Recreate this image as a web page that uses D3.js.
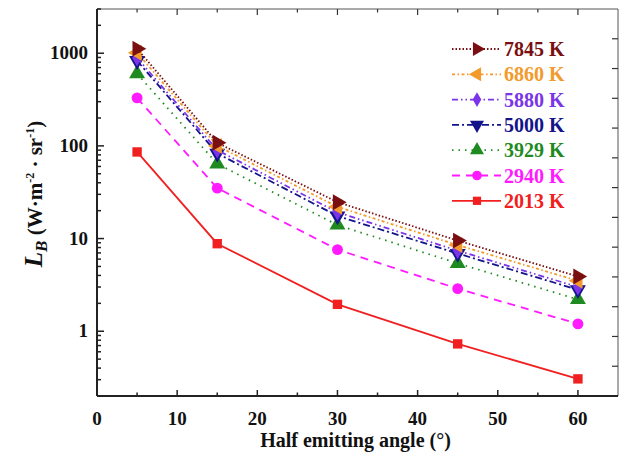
<!DOCTYPE html>
<html>
<head>
<meta charset="utf-8">
<script src="https://cdn.jsdelivr.net/npm/d3@7"></script>
<style>
  body { margin: 0; background: #fff; }
  svg text { font-family: "Times New Roman", Times, "Liberation Serif", "DejaVu Serif", serif; font-weight: 700; }
</style>
</head>
<body>
<div id="chart"></div>
<script>
const width = 626;
const height = 460;

// data
const angles = [5, 15, 30, 45, 60];
const temps = ['7845 K', '6860 K', '5880 K', '5000 K', '3929 K', '2940 K', '2013 K'];
const lb7845 = [1120, 108, 24.7, 9.5, 3.9];
const lb6860 = [1010, 100, 22, 8.5, 3.5];
const lb5880 = [890, 90, 19.2, 7.4, 3.0];
const lb5000 = [830, 83, 17.5, 6.9, 2.8];
const lb3929 = [600, 64, 14, 5.4, 2.2];
const lb2940 = [330, 35, 7.6, 2.88, 1.2];
const lb2013 = [86, 8.8, 1.95, 0.73, 0.306];
const yTicks = [1, 10, 100, 1000];
const xTicks = [0, 10, 20, 30, 40, 50, 60];

const series = [
    { name: temps[0], values: lb7845, color: '#7a0f12', dash: '1.5,2', shape: 'tri', rot: 90 },
    { name: temps[1], values: lb6860, color: '#f39a2c', dash: '3,2.5,1.5,2.5', shape: 'tri', rot: -90 },
    { name: temps[2], values: lb5880, color: '#7b35e8', dash: '6,3,1.5,3,1.5,3', shape: 'diamond', rot: 0 },
    { name: temps[3], values: lb5000, color: '#14148a', dash: '7,3,2,3', shape: 'tri', rot: 180 },
    { name: temps[4], values: lb3929, color: '#1f8a1f', dash: '1.5,5', shape: 'tri', rot: 0 },
    { name: temps[5], values: lb2940, color: '#ff1aff', dash: '8,6', shape: 'circle', rot: 0 },
    { name: temps[6], values: lb2013, color: '#f02020', dash: null, shape: 'square', rot: 0 }
];

const margin = { left: 97, right: 8, top: 9, bottom: 64 };
const x0 = margin.left, x1 = width - margin.right;
const y0 = margin.top, y1 = height - margin.bottom;

const x = d3.scaleLinear().domain([0, 65]).range([x0, x1]);
const y = d3.scaleLog().domain([0.2, 3000]).range([y1, y0]);

const svg = d3.select('#chart').append('svg')
    .attr('width', width)
    .attr('height', height);

// frame: top and right thin grey
svg.append('line').attr('x1', x0).attr('x2', x1).attr('y1', y0).attr('y2', y0)
    .attr('stroke', '#555').attr('stroke-width', 1);
svg.append('line').attr('x1', x1).attr('x2', x1).attr('y1', y0).attr('y2', y1)
    .attr('stroke', '#555').attr('stroke-width', 1);

// x minor/major ticks (bottom + top, inward)
const xAll = d3.range(0, 65, 5);
xAll.forEach(v => {
    const major = v % 10 === 0;
    const len = major ? 6 : 3.5;
    svg.append('line').attr('x1', x(v)).attr('x2', x(v)).attr('y1', y1).attr('y2', y1 - len)
        .attr('stroke', '#222').attr('stroke-width', 1.5);
    svg.append('line').attr('x1', x(v)).attr('x2', x(v)).attr('y1', y0).attr('y2', y0 + len)
        .attr('stroke', '#333').attr('stroke-width', 1.2);
});

// y log ticks (left, inward)
const yMinor = [];
for (let e = -1; e <= 3; e++) {
    for (let m = 1; m <= 9; m++) {
        const v = m * Math.pow(10, e);
        if (v >= 0.2 && v <= 3000) yMinor.push(v);
    }
}
yMinor.forEach(v => {
    const major = yTicks.includes(v);
    svg.append('line').attr('x1', x0).attr('x2', x0 + (major ? 7 : 4))
        .attr('y1', y(v)).attr('y2', y(v))
        .attr('stroke', '#222').attr('stroke-width', 1.5);
});

// right axis ticks (linear mirror, inward)
const yr = d3.scaleLinear().domain([0, 13]).range([y1, y0]);
d3.range(1, 13).forEach(v => {
    svg.append('line').attr('x1', x1).attr('x2', x1 - 6)
        .attr('y1', yr(v)).attr('y2', yr(v))
        .attr('stroke', '#333').attr('stroke-width', 1.2);
});

// left and bottom axis lines
svg.append('line').attr('x1', x0).attr('x2', x0).attr('y1', y0).attr('y2', y1)
    .attr('stroke', '#222').attr('stroke-width', 2);
svg.append('line').attr('x1', x0).attr('x2', x1).attr('y1', y1).attr('y2', y1)
    .attr('stroke', '#222').attr('stroke-width', 2);

// tick labels
svg.selectAll('.xl').data(xTicks).enter().append('text')
    .attr('x', d => x(d)).attr('y', y1 + 29)
    .attr('text-anchor', 'middle')
    .attr('font-size', 19).attr('fill', '#111')
    .text(d => d);
svg.selectAll('.yl').data(yTicks).enter().append('text')
    .attr('x', x0 - 9).attr('y', d => y(d) + 6)
    .attr('text-anchor', 'end')
    .attr('font-size', 19).attr('fill', '#111')
    .text(d => d);

// axis titles
svg.append('text')
    .attr('x', (x0 + x1) / 2 - 2).attr('y', 447)
    .attr('text-anchor', 'middle')
    .attr('font-size', 20).attr('fill', '#111')
    .text('Half emitting angle (°)');

const yt = svg.append('text')
    .attr('transform', 'translate(42,' + 194 + ') rotate(-90)')
    .attr('text-anchor', 'middle')
    .attr('font-size', 21).attr('fill', '#111');
yt.append('tspan').attr('font-style', 'italic').attr('font-size', 25).text('L');
yt.append('tspan').attr('font-style', 'italic').attr('font-size', 17).attr('dy', 5).text('B');
yt.append('tspan').attr('dy', -5).text(' (W·m');
yt.append('tspan').attr('font-size', 12).attr('dy', -8).text('-2');
yt.append('tspan').attr('dy', 8).text(' · sr');
yt.append('tspan').attr('font-size', 12).attr('dy', -8).text('-1');
yt.append('tspan').attr('dy', 8).text(')');

function symbolPath(s, size) {
    if (s.shape === 'circle') return d3.symbol(d3.symbolCircle, size * 0.85)();
    if (s.shape === 'square') return d3.symbol(d3.symbolSquare, size * 0.8)();
    if (s.shape === 'diamond') return d3.symbol(d3.symbolDiamond, size * 0.75)();
    return d3.symbol(d3.symbolTriangle, size)();
}

const line = d3.line().x((d, i) => x(angles[i])).y(d => y(d));

const plot = svg.append('g');
// draw back to front so warm lines sit on top
series.slice().reverse().forEach(s => {
    plot.append('path')
        .datum(s.values)
        .attr('d', line)
        .attr('fill', 'none')
        .attr('stroke', s.color)
        .attr('stroke-width', 1.8)
        .attr('stroke-dasharray', s.dash);
    plot.selectAll(null).data(s.values).enter().append('path')
        .attr('d', symbolPath(s, 110))
        .attr('transform', (d, i) => 'translate(' + x(angles[i]) + ',' + y(d) + ') rotate(' + s.rot + ')')
        .attr('fill', s.color);
});

// legend
const lg = svg.append('g');
series.forEach((s, i) => {
    const ly = 49 + i * 25.3;
    lg.append('line')
        .attr('x1', 452).attr('x2', 501).attr('y1', ly).attr('y2', ly)
        .attr('stroke', s.color).attr('stroke-width', 1.8)
        .attr('stroke-dasharray', s.dash);
    lg.append('path')
        .attr('d', symbolPath(s, 85))
        .attr('transform', 'translate(477,' + ly + ') rotate(' + s.rot + ')')
        .attr('fill', s.color);
    lg.append('text')
        .attr('x', 504).attr('y', ly + 7)
        .attr('font-size', 20)
        .attr('fill', s.color)
        .text(s.name);
});
</script>
</body>
</html>
